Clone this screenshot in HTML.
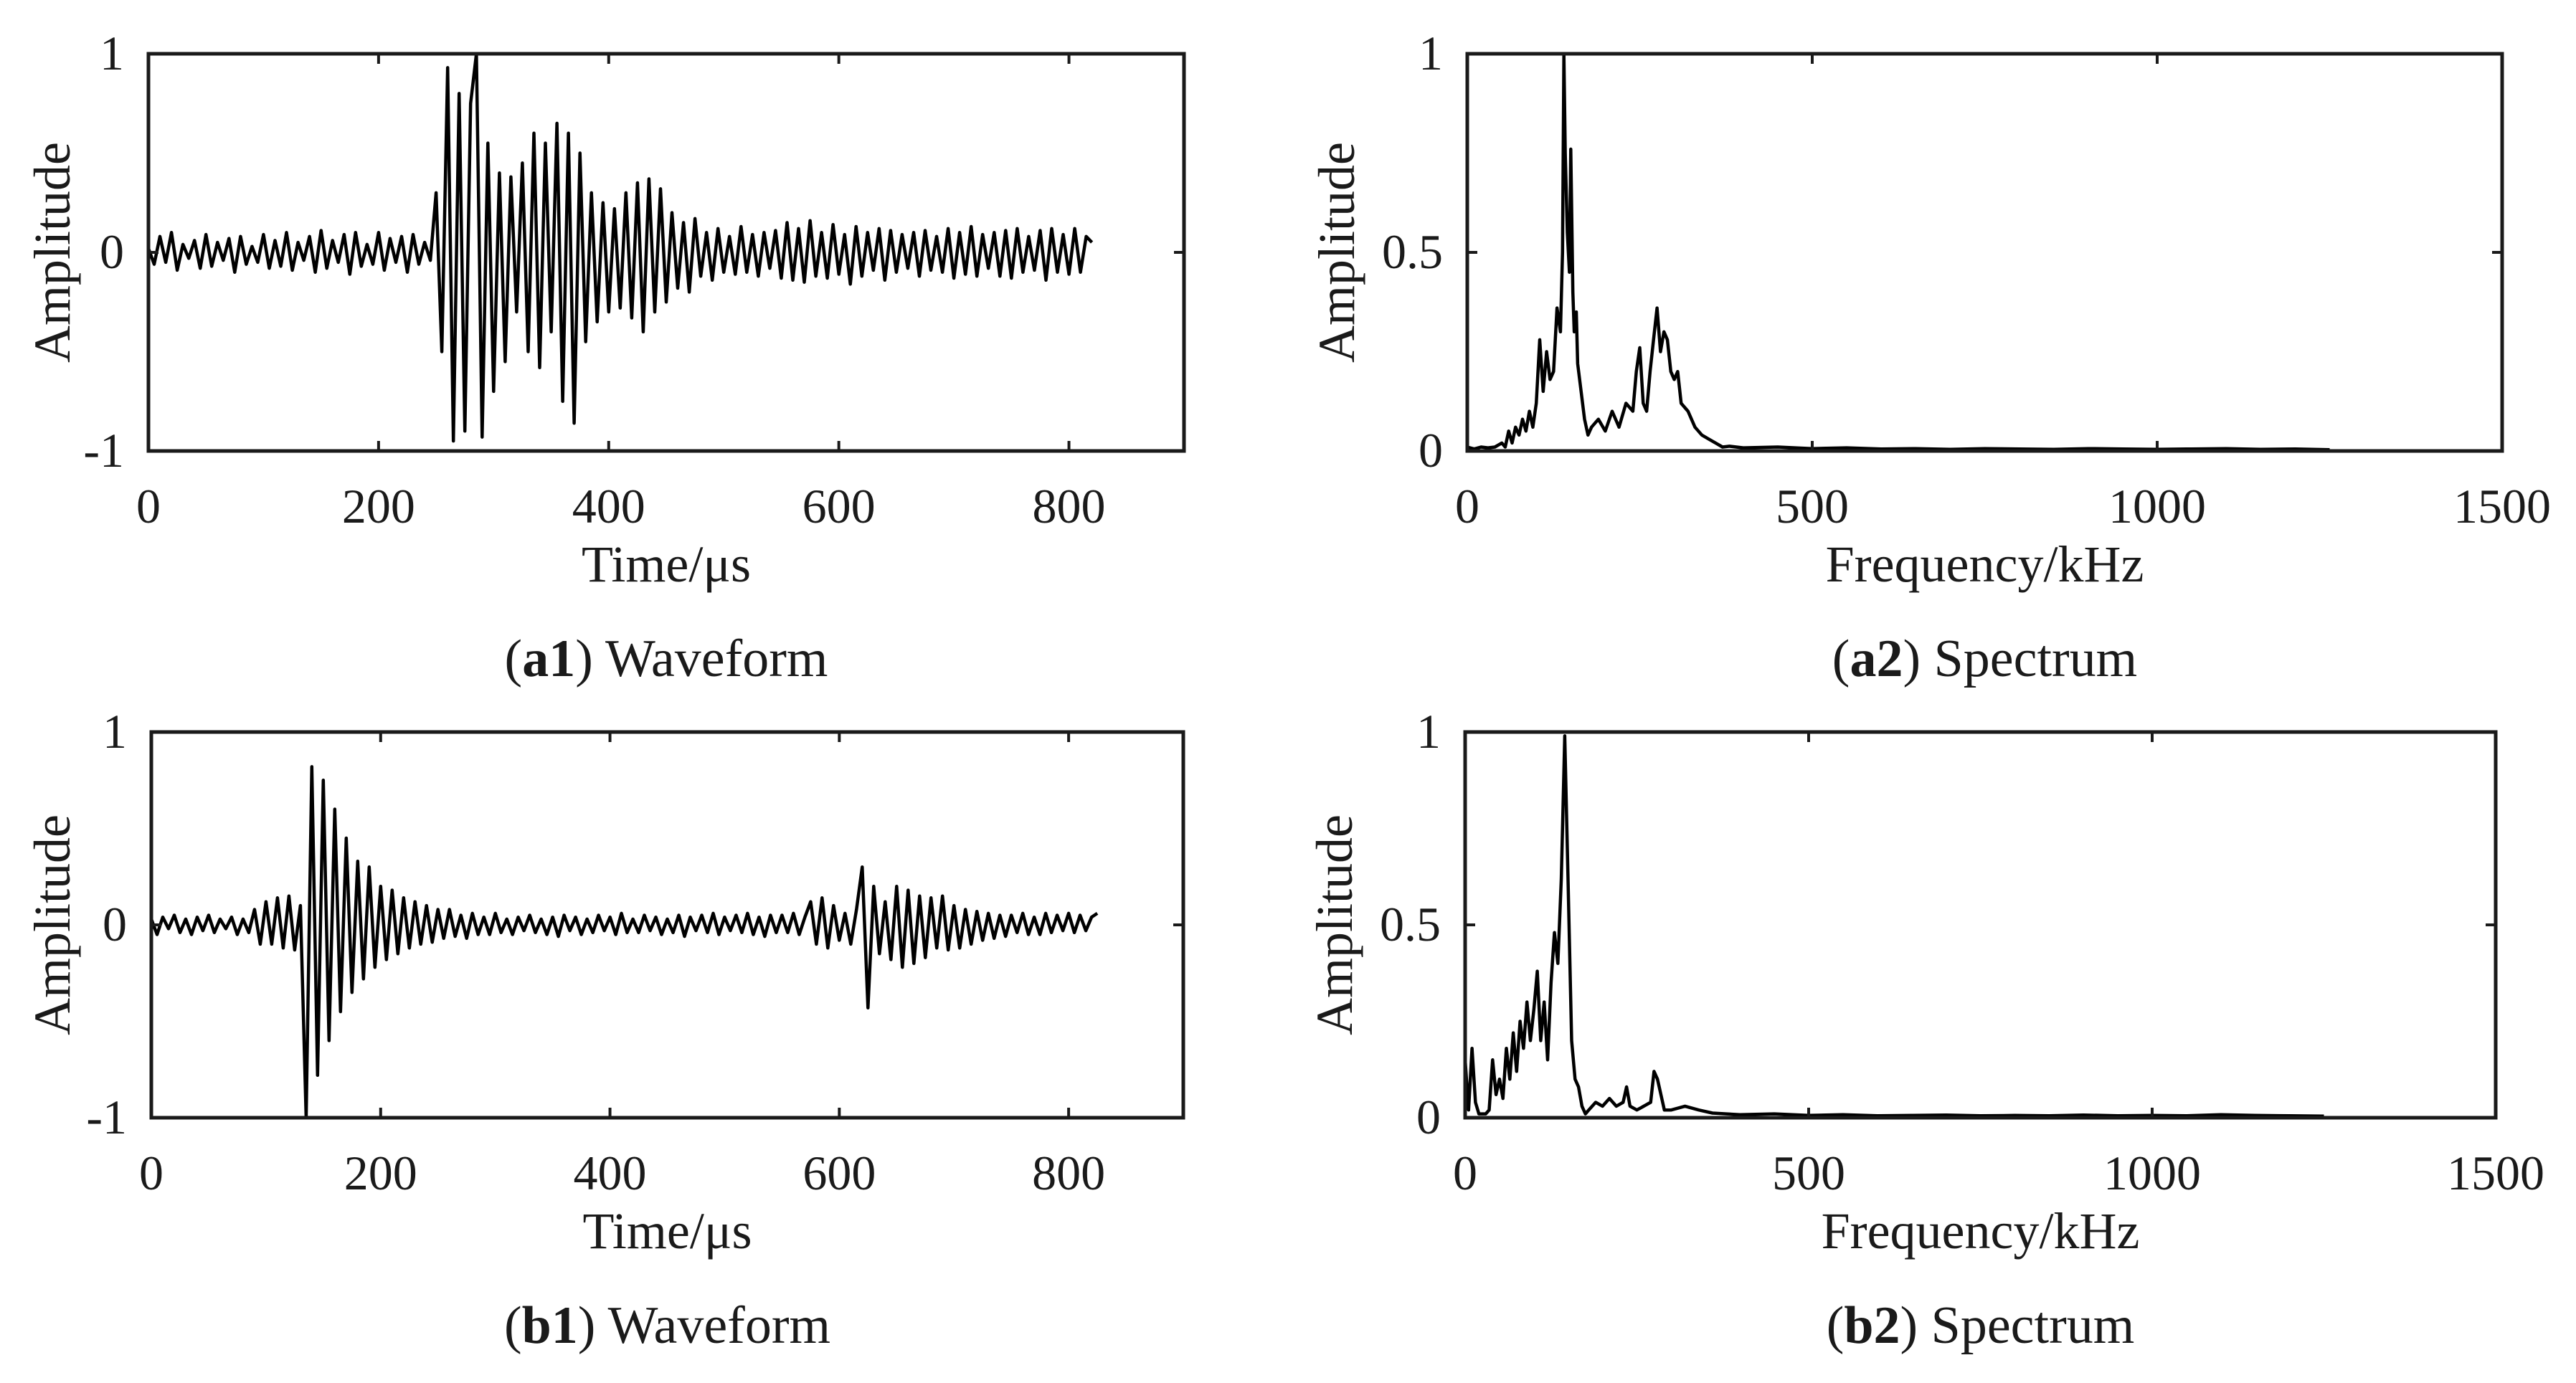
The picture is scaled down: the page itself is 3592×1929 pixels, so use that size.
<!DOCTYPE html>
<html><head><meta charset="utf-8"><style>
html,body{margin:0;padding:0;background:#fff;}
svg{display:block;}
text{font-family:"Liberation Serif",serif;fill:#1a1a1a;}
</style></head><body>
<svg id="fig" width="3592" height="1929" viewBox="0 0 3592 1929" xmlns="http://www.w3.org/2000/svg"></svg>
<script>
// ---- data ----
const a1Step = 5;
const a1Values = [0.02,-0.06,0.08,-0.05,0.1,-0.09,0.04,-0.03,0.06,-0.08,0.09,-0.07,0.05,-0.04,0.07,-0.1,0.08,-0.06,0.03,-0.05,0.09,-0.08,0.06,-0.07,0.1,-0.09,0.05,-0.04,0.08,-0.1,0.11,-0.08,0.06,-0.05,0.09,-0.11,0.1,-0.07,0.04,-0.06,0.1,-0.09,0.07,-0.05,0.08,-0.1,0.09,-0.06,0.05,-0.04,
0.3,-0.5,0.93,-0.95,0.8,-0.9,0.75,1.0,-0.93,0.55,-0.7,
0.4,-0.55,0.38,-0.3,0.45,-0.5,0.6,-0.58,0.55,-0.4,0.65,-0.75,0.6,-0.86,0.5,-0.45,
0.3,-0.35,0.25,-0.3,0.22,-0.28,0.3,-0.33,0.35,-0.4,0.37,-0.3,0.32,-0.25,
0.2,-0.18,0.15,-0.2,0.17,-0.12,0.1,-0.14,0.12,-0.1,0.08,-0.11,0.13,-0.1,0.09,-0.12,0.1,-0.08,0.11,-0.13,0.15,-0.14,0.12,-0.15,0.16,-0.12,0.1,-0.13,0.14,-0.11,0.09,-0.16,0.13,-0.12,0.1,-0.09,0.12,-0.14,0.11,-0.1,0.09,-0.08,0.1,-0.12,0.11,-0.09,0.08,-0.1,0.12,-0.13,0.1,-0.11,0.13,-0.12,0.09,-0.08,0.1,-0.12,0.11,-0.13,0.12,-0.1,0.08,-0.09,0.11,-0.14,0.12,-0.1,0.09,-0.11,0.12,-0.1,0.08,0.05];
const b1Step = 5;
const b1Values = [0.03,-0.05,0.04,-0.02,0.05,-0.04,0.03,-0.05,0.04,-0.03,0.05,-0.04,0.03,-0.02,0.04,-0.05,0.03,-0.04,0.08,-0.1,0.12,-0.1,0.14,-0.12,0.15,-0.13,0.1,
-1.0,0.82,-0.78,0.75,-0.6,0.6,-0.45,0.45,-0.35,0.33,-0.28,0.3,-0.22,0.2,-0.18,0.18,-0.15,0.14,-0.12,0.12,-0.1,0.1,-0.09,0.08,-0.07,0.08,-0.06,0.05,-0.07,0.06,-0.05,0.04,-0.05,0.06,-0.04,0.03,-0.05,0.04,-0.03,0.05,-0.04,0.03,-0.05,0.04,-0.06,0.05,-0.03,0.04,-0.05,0.03,-0.04,0.05,-0.03,0.04,-0.05,0.06,-0.04,0.03,-0.04,0.05,-0.03,0.04,-0.05,0.03,-0.04,0.05,-0.06,0.04,-0.03,0.05,-0.04,0.06,-0.05,0.04,-0.03,0.05,-0.04,0.06,-0.05,0.04,-0.06,0.05,-0.04,0.05,-0.04,0.06,-0.05,0.04,
0.12,-0.1,0.14,-0.12,0.1,-0.08,0.06,-0.1,0.08,0.3,-0.43,0.2,-0.15,0.12,-0.18,0.2,-0.22,0.18,-0.2,0.15,-0.17,0.14,-0.12,0.15,-0.13,0.1,-0.12,0.08,-0.1,0.07,-0.08,0.06,-0.07,0.05,-0.06,0.05,-0.04,0.06,-0.05,0.04,-0.05,0.06,-0.04,0.05,-0.03,0.06,-0.04,0.05,-0.03,0.04,0.06];
const a2Freq = [0,10,20,30,40,50,55,60,65,70,75,80,85,90,95,100,105,110,115,120,125,130,135,138,140,142,145,148,150,153,155,158,160,165,170,175,180,190,200,210,220,230,240,245,250,255,260,265,270,275,280,285,290,295,300,305,310,320,330,340,350,360,370,380,400,450,500,550,600,650,700,750,800,850,900,950,1000,1050,1100,1150,1200,1250];
const a2Amp = [0.01,0.005,0.01,0.008,0.01,0.02,0.01,0.05,0.02,0.06,0.04,0.08,0.05,0.1,0.06,0.12,0.28,0.15,0.25,0.18,0.2,0.36,0.3,0.5,1.0,0.75,0.55,0.45,0.76,0.4,0.3,0.35,0.22,0.15,0.08,0.04,0.06,0.08,0.05,0.1,0.06,0.12,0.1,0.2,0.26,0.12,0.1,0.2,0.28,0.36,0.25,0.3,0.28,0.2,0.18,0.2,0.12,0.1,0.06,0.04,0.03,0.02,0.01,0.012,0.008,0.01,0.006,0.008,0.005,0.006,0.004,0.006,0.005,0.004,0.006,0.005,0.004,0.005,0.006,0.004,0.005,0.003];
const b2Freq = [0,5,10,15,20,25,30,35,40,45,50,55,60,65,70,75,80,85,90,95,100,105,110,115,120,125,130,135,140,145,150,155,160,165,170,175,180,190,200,210,220,230,235,240,250,260,270,275,280,285,290,300,320,340,360,380,400,450,500,550,600,650,700,750,800,850,900,950,1000,1050,1100,1150,1200,1250];
const b2Amp = [0.15,0.02,0.18,0.04,0.01,0.01,0.01,0.02,0.15,0.06,0.1,0.05,0.18,0.1,0.22,0.12,0.25,0.18,0.3,0.2,0.28,0.38,0.2,0.3,0.15,0.35,0.48,0.4,0.62,0.99,0.6,0.2,0.1,0.08,0.03,0.01,0.02,0.04,0.03,0.05,0.03,0.04,0.08,0.03,0.02,0.03,0.04,0.12,0.1,0.06,0.02,0.02,0.03,0.02,0.012,0.01,0.008,0.01,0.006,0.008,0.005,0.006,0.007,0.005,0.006,0.005,0.007,0.005,0.006,0.005,0.008,0.006,0.005,0.004];
const timeTicks = [0,200,400,600,800];
const freqTicks = [0,500,1000,1500];
const waveYTicks = [-1,0,1];
const specYTicks = [0,0.5,1];

// ---- drawing ----
const NS = "http://www.w3.org/2000/svg";
const svg = document.getElementById('fig');
function mk(tag, attrs, parent){
  const e = document.createElementNS(NS, tag);
  for (const k in attrs) e.setAttribute(k, attrs[k]);
  (parent||svg).appendChild(e);
  return e;
}
function panel(id, box, xmax, ymin, ymax, xTicks, yTicks, xs, ys, xlabel, capBold, capText, ylOff){
  const g = mk('g', {});
  
  
  const sx = v => box.x0 + (v / xmax) * (box.x1 - box.x0);
  const sy = v => box.y1 - (v - ymin) / (ymax - ymin) * (box.y1 - box.y0);
  let d = '';
  for (let i = 0; i < ys.length; i++) d += (i ? 'L' : 'M') + sx(xs(i)).toFixed(1) + ' ' + sy(ys[i]).toFixed(1);
  const line = mk('path', {d: d, fill: 'none', stroke: '#000', 'stroke-width': 4.5, 'stroke-linejoin': 'round'}, g);
  
  
  const frame = mk('rect', {x: box.x0, y: box.y0, width: box.x1 - box.x0, height: box.y1 - box.y0, fill: 'none', stroke: '#1a1a1a', 'stroke-width': 5}, g);
  
  
  const tl = 14;
  xTicks.forEach(t => {
    const x = sx(t);
    mk('line', {x1: x, x2: x, y1: box.y1, y2: box.y1 - tl, stroke: '#1a1a1a', 'stroke-width': 4}, g);
    mk('line', {x1: x, x2: x, y1: box.y0, y2: box.y0 + tl, stroke: '#1a1a1a', 'stroke-width': 4}, g);
    const tx = mk('text', {x: x, y: box.y1 + 100, 'font-size': 68, 'text-anchor': 'middle'}, g);
    tx.textContent = t;
    
    
  });
  yTicks.forEach(t => {
    const y = sy(t);
    mk('line', {x1: box.x0, x2: box.x0 + tl, y1: y, y2: y, stroke: '#1a1a1a', 'stroke-width': 4}, g);
    mk('line', {x1: box.x1, x2: box.x1 - tl, y1: y, y2: y, stroke: '#1a1a1a', 'stroke-width': 4}, g);
    const ty = mk('text', {x: box.x0 - 34, y: y + 22, 'font-size': 68, 'text-anchor': 'end'}, g);
    ty.textContent = t;
    
    
  });
  const cx = (box.x0 + box.x1) / 2, cy = (box.y0 + box.y1) / 2;
  const xl = mk('text', {x: cx, y: box.y1 + 182, 'font-size': 72, 'text-anchor': 'middle'}, g);
  xl.textContent = xlabel;
  
  
  const ylx = box.x0 - ylOff;
  const yl = mk('text', {x: ylx, y: cy, 'font-size': 72, 'text-anchor': 'middle', transform: 'rotate(-90 ' + ylx + ' ' + cy + ')'}, g);
  yl.textContent = 'Amplitude';
  
  
  const cap = mk('text', {x: cx, y: box.y1 + 314, 'font-size': 74, 'text-anchor': 'middle'}, g);
  
  
  const t1 = mk('tspan', {}, cap); t1.textContent = '(';
  const t2 = mk('tspan', {'font-weight': 'bold'}, cap); t2.textContent = capBold;
  const t3 = mk('tspan', {}, cap); t3.textContent = ') ' + capText;
}
panel('a1', {x0: 207, x1: 1651, y0: 75, y1: 629}, 900, -1, 1, timeTicks, waveYTicks, i => i * a1Step, a1Values, 'Time/\u03bcs', 'a1', 'Waveform', 110);
panel('a2', {x0: 2046, x1: 3489, y0: 75, y1: 629}, 1500, 0, 1, freqTicks, specYTicks, i => a2Freq[i], a2Amp, 'Frequency/kHz', 'a2', 'Spectrum', 158);
panel('b1', {x0: 211, x1: 1650, y0: 1021, y1: 1559}, 900, -1, 1, timeTicks, waveYTicks, i => i * b1Step, b1Values, 'Time/\u03bcs', 'b1', 'Waveform', 114);
panel('b2', {x0: 2043, x1: 3480, y0: 1021, y1: 1559}, 1500, 0, 1, freqTicks, specYTicks, i => b2Freq[i], b2Amp, 'Frequency/kHz', 'b2', 'Spectrum', 158);
</script>
</body></html>
